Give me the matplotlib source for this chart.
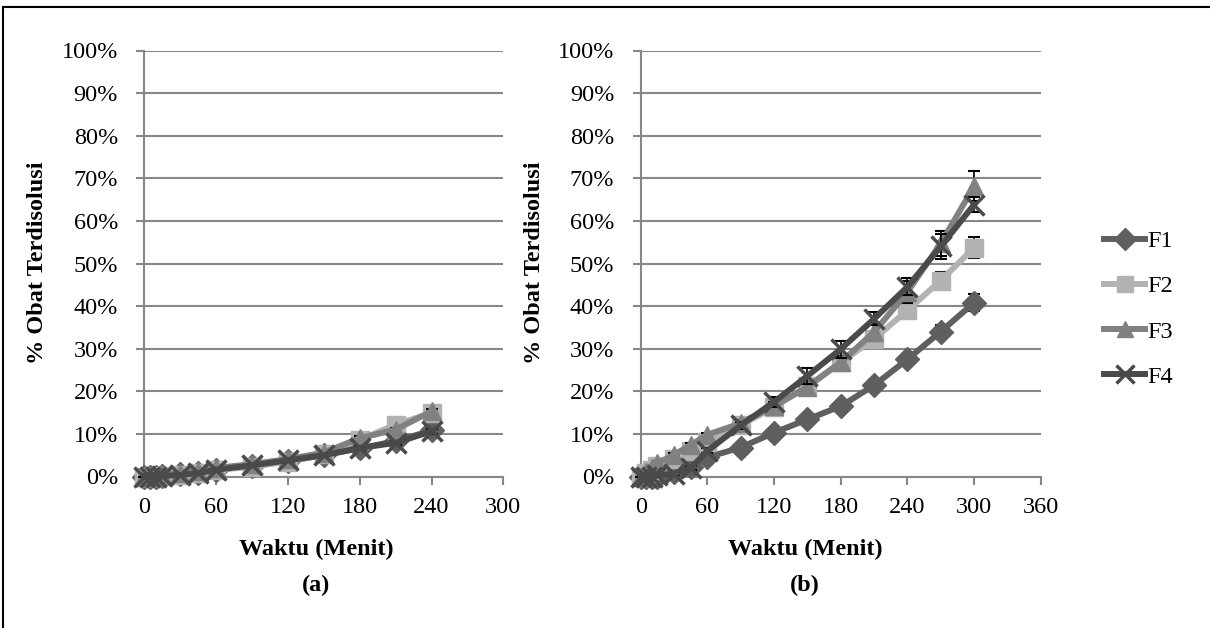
import matplotlib
matplotlib.use('Agg')
import matplotlib.pyplot as plt
import numpy as np
from matplotlib.patches import Rectangle

plt.rcParams['font.family'] = ['Liberation Serif', 'DejaVu Serif']

# data (% obat terdisolusi)
waktu_a = [0, 5, 10, 15, 30, 45, 60, 90, 120, 150, 180, 210, 240]
f1_a = [0, 0, 0, 0.1, 0.5, 0.9, 1.6, 2.5, 3.6, 5.0, 6.6, 8.3, 10.8]
f2_a = [0, 0, 0, 0.1, 0.4, 0.9, 1.5, 2.3, 3.5, 5.2, 8.6, 12.2, 14.9]
f3_a = [0, 0, 0, 0.3, 0.8, 1.4, 2.0, 2.9, 4.1, 5.6, 9.0, 11.0, 15.3]
f4_a = [0, 0, 0, 0.1, 0.4, 0.8, 1.6, 2.6, 3.8, 5.0, 6.7, 7.9, 10.6]
err_a = [0, 0, 0, 0, 0.1, 0.1, 0.2, 0.2, 0.3, 0.3, 0.4, 0.5, 0.6]

waktu_b = [0, 5, 10, 15, 30, 45, 60, 90, 120, 150, 180, 210, 240, 270, 300]
f1_b = [0, 0, 0, 0, 1.0, 2.2, 4.5, 6.8, 10.3, 13.4, 16.5, 21.4, 27.5, 34.0, 40.8]
f2_b = [0, 0.8, 1.5, 2.5, 4.2, 6.0, 8.0, 12.0, 16.3, 21.2, 26.8, 32.3, 39.0, 46.0, 53.7]
f3_b = [0, 1.0, 2.0, 3.1, 5.1, 7.4, 9.8, 12.5, 16.5, 21.0, 26.8, 33.9, 43.3, 54.7, 68.1]
f4_b = [0, 0, 0, 0.3, 0.6, 2.0, 6.0, 12.0, 17.5, 23.6, 29.9, 37.0, 44.5, 54.0, 63.8]
e1_b = [0, 0, 0, 0, 0.2, 0.3, 0.4, 0.5, 0.6, 0.8, 0.9, 1.0, 1.2, 1.5, 2.0]
e2_b = [0, 0, 0, 0.2, 0.3, 0.4, 0.5, 0.6, 0.8, 1.0, 1.2, 1.4, 1.6, 2.0, 2.5]
e3_b = [0, 0, 0, 0.2, 0.3, 0.4, 0.5, 0.7, 0.9, 1.2, 1.5, 2.0, 2.5, 3.0, 3.5]
e4_b = [0, 0, 0, 0.2, 0.3, 0.4, 0.6, 0.8, 1.2, 1.8, 2.0, 1.5, 2.0, 3.0, 1.8]

labels = ['F1', 'F2', 'F3', 'F4']
warna = ['#5f5f5f', '#b2b2b2', '#818181', '#4a4a4a']
penanda = ['D', 's', '^', 'x']

W, H = 1210, 628
fig = plt.figure(figsize=(W / 100, H / 100), dpi=100)

# bingkai
fig.patches.append(Rectangle((3 / W, -0.1), 1.2, (H - 7) / H + 0.1, transform=fig.transFigure,
                             fill=False, edgecolor='black', linewidth=1.5))

abu = '#878787'
fs = 17.5


def setup(ax, xmax):
    ax.set_xlim(0, xmax)
    ax.set_ylim(0, 100)
    ax.set_xticks(np.arange(0, xmax + 1, 60))
    ax.set_yticks(np.arange(0, 101, 10))
    ax.set_yticklabels(['%d%%' % v for v in range(0, 101, 10)])
    ax.grid(axis='y', color=abu, linewidth=1.5)
    ax.set_axisbelow(True)
    for s in ['top', 'right']:
        ax.spines[s].set_visible(False)
    for s in ['left', 'bottom']:
        ax.spines[s].set_color(abu)
        ax.spines[s].set_linewidth(1.5)
    ax.tick_params(axis='y', direction='out', length=6, width=1.5, color=abu, pad=13, labelsize=fs)
    ax.tick_params(axis='x', direction='out', length=6, width=1.5, color=abu, pad=9, labelsize=fs)


def gambar(ax, waktu, seri, errs):
    hs = []
    for i, (y, e) in enumerate(zip(seri, errs)):
        ax.errorbar(waktu, y, yerr=e, fmt='none', ecolor='black', elinewidth=1.2,
                    capsize=4.5, capthick=1.5, zorder=2 + i, clip_on=False)
        m = penanda[i]
        ms = {'D': 12, 's': 12.5, '^': 13.5, 'x': 14}[m]
        h, = ax.plot(waktu, y, color=warna[i], linewidth=4.3, marker=m, markersize=ms,
                     markeredgewidth=2.5 if m == 'x' else 1,
                     markeredgecolor=warna[i], zorder=3 + i, clip_on=False)
        hs.append(h)
    return hs


ax1 = fig.add_axes([144.3 / W, (H - 476.5) / H, 359 / W, 426 / H])
setup(ax1, 300)
gambar(ax1, waktu_a, [f1_a, f2_a, f3_a, f4_a], [err_a] * 4)

ax2 = fig.add_axes([640.7 / W, (H - 476.5) / H, 400 / W, 426 / H])
setup(ax2, 360)
hs = gambar(ax2, waktu_b, [f1_b, f2_b, f3_b, f4_b], [e1_b, e2_b, e3_b, e4_b])

fig.text(316 / W, 1 - 549 / H, 'Waktu (Menit)', ha='center', va='center', fontsize=fs, fontweight='bold')
fig.text(805 / W, 1 - 549 / H, 'Waktu (Menit)', ha='center', va='center', fontsize=fs, fontweight='bold')
fig.text(316 / W, 1 - 585 / H, '(a)', ha='center', va='center', fontsize=fs, fontweight='bold')
fig.text(805 / W, 1 - 585 / H, '(b)', ha='center', va='center', fontsize=fs, fontweight='bold')
fig.text(38 / W, 1 - 263 / H, '% Obat Terdisolusi', ha='center', va='center', rotation=90,
         fontsize=fs, fontweight='bold')
fig.text(535 / W, 1 - 263 / H, '% Obat Terdisolusi', ha='center', va='center', rotation=90,
         fontsize=fs, fontweight='bold')

fig.legend(hs, labels, loc='center left', bbox_to_anchor=(1082 / W, 1 - 309 / H),
           frameon=False, fontsize=fs, handlelength=1.7, handletextpad=0.1,
           labelspacing=0.95, markerscale=0.9)

fig.savefig('out.png', dpi=100)
